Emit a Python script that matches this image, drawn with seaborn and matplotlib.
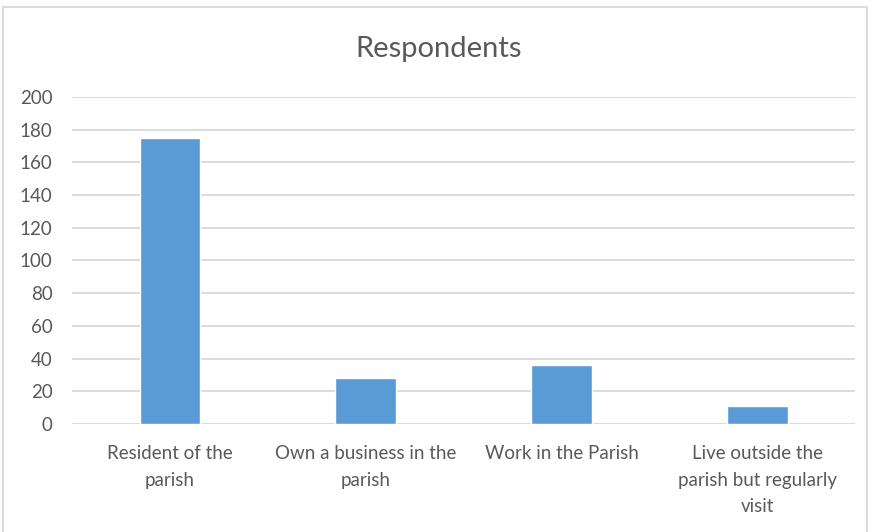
import matplotlib.pyplot as plt
import seaborn as sns
from matplotlib.patches import Rectangle

# Data
categories = ['Resident of the\nparish', 'Own a business in the\nparish',
              'Work in the Parish', 'Live outside the\nparish but regularly\nvisit']
values = [175, 28, 36, 11]
y_ticks = list(range(0, 201, 20))

sns.set_theme(style='white')
plt.rcParams['font.family'] = ['Lato', 'DejaVu Sans']

text_col = '#595959'
grid_col = '#D9D9D9'

fig = plt.figure(figsize=(8.78, 5.32), dpi=100)
ax = fig.add_axes([0.082, 0.203, 0.892, 0.615])

sns.barplot(x=categories, y=values, color='#5B9BD5', width=0.31,
            saturation=1, ax=ax, zorder=3)

ax.set_ylim(0, 200)
ax.set_yticks(y_ticks)
ax.set_xlim(-0.5, len(categories) - 0.5)
ax.yaxis.grid(True, color=grid_col, linewidth=1.3, zorder=0)
ax.set_axisbelow(True)
for s in ax.spines.values():
    s.set_visible(False)
ax.tick_params(axis='both', length=0, labelsize=13.5, colors=text_col)
ax.tick_params(axis='y', pad=14)
ax.tick_params(axis='x', pad=15)
for lbl in ax.get_xticklabels():
    lbl.set_linespacing(1.7)
ax.set_xlabel('')
ax.set_ylabel('')

fig.text(0.5, 0.908, 'Respondents', ha='center', va='center',
         fontsize=21, color=text_col)

# chart area border
fig.patches.append(Rectangle((0.003, -0.01), 0.985, 0.997, transform=fig.transFigure,
                             fill=False, edgecolor=grid_col, linewidth=1.3))

fig.savefig('out.png', dpi=100)
